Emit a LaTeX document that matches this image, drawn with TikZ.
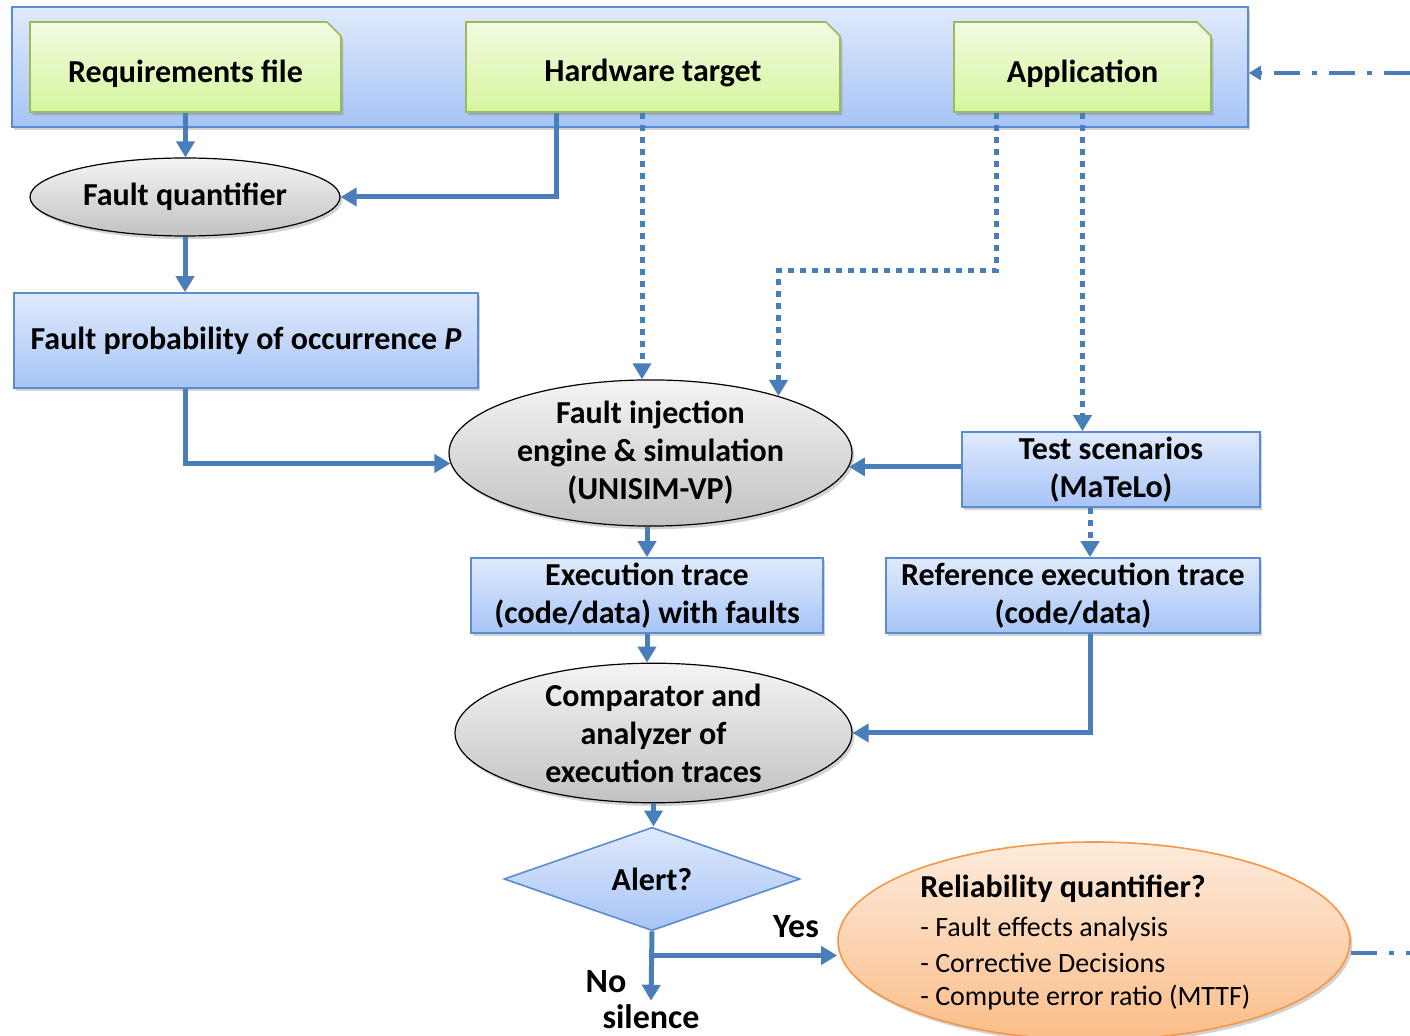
\documentclass[tikz,border=0pt]{standalone}
\usepackage{fontspec}
\setmainfont{Carlito}
\usetikzlibrary{shapes.geometric,shapes.misc,arrows.meta,shadows,calc}

\definecolor{arrowblue}{HTML}{4A7EBB}
\definecolor{frameblue}{HTML}{5B8BD0}
\definecolor{bluetop}{HTML}{E0EAFC}
\definecolor{bluebot}{HTML}{A6C4F6}
\definecolor{greentop}{HTML}{F2FBE2}
\definecolor{greenbot}{HTML}{D6F59E}
\definecolor{greenline}{HTML}{9BBB59}
\definecolor{graytop}{HTML}{F4F4F4}
\definecolor{graybot}{HTML}{C2C2C2}
\definecolor{orangetop}{HTML}{FDEBDC}
\definecolor{orangebot}{HTML}{FBBD88}
\definecolor{orangeline}{HTML}{F79646}

% lower a label inside its box without changing the box size
\newcommand{\lowered}[1]{\raisebox{-3.2pt}[\height][\depth]{#1}}

\begin{document}
\begin{tikzpicture}[x=0.5pt,y=-0.5pt,
  softshadow/.style={drop shadow={shadow xshift=1.2pt,shadow yshift=-1.6pt,opacity=0.25,fill=black!70}},
  lbl/.style={font=\fontsize{16}{19}\selectfont\bfseries,align=center,inner sep=0pt},
  container/.style={rectangle,draw=frameblue,line width=0.8pt,top color=bluetop,bottom color=bluebot,softshadow},
  bluebox/.style={lbl,rectangle,draw=frameblue,line width=0.8pt,top color=bluetop,bottom color=bluebot,softshadow},
  filebox/.style={lbl,chamfered rectangle,chamfered rectangle corners=north east,
    chamfered rectangle xsep=3.5pt,chamfered rectangle ysep=3.5pt,
    draw=greenline,line width=0.8pt,top color=greentop,bottom color=greenbot,softshadow},
  grayell/.style={lbl,ellipse,draw=black,line width=0.6pt,top color=graytop,bottom color=graybot,softshadow},
  diam/.style={lbl,diamond,draw=frameblue,line width=0.8pt,top color=bluetop,bottom color=bluebot},
  orangeell/.style={ellipse,inner sep=0pt,draw=orangeline,line width=0.8pt,top color=orangetop,bottom color=orangebot,softshadow},
  arr/.style={draw=arrowblue,line width=2.5pt,-{Triangle[width=9pt,length=8pt]}},
  dotarr/.style={arr,dash pattern=on 3pt off 3pt},
  dasharr/.style={draw=arrowblue,line width=2pt,dash pattern=on 13pt off 6pt on 2.5pt off 6pt},
  bigword/.style={font=\fontsize{17}{20}\selectfont\bfseries,inner sep=0pt},
  relline/.style={font=\fontsize{14}{16}\selectfont,inner sep=0pt,anchor=west},
]
\useasboundingbox (0,0) rectangle (1410,1036);

% inputs
\node[container,minimum width=618pt,minimum height=60pt] (top) at (630,67) {};
\node[filebox,minimum width=155.5pt,minimum height=45pt] (req) at (185.5,67) {\lowered{Requirements file}};
\node[filebox,minimum width=187pt,minimum height=45pt] (hw) at (653,67) {\lowered{Hardware target}};
\node[filebox,minimum width=128.5pt,minimum height=45pt] (app) at (1082.5,67) {\lowered{Application}};

% processing chain
\node[grayell,minimum width=155pt,minimum height=39pt] (fq) at (185,197) {Fault quantifier};
\node[bluebox,minimum width=232pt,minimum height=47.5pt] (fp) at (246,340.5) {Fault probability of occurrence \textit{P}};
\node[grayell,minimum width=201.5pt,minimum height=62pt] (fi) at (650.5,453) {Fault injection\\engine \& simulation\\(UNISIM-VP)};
\node[bluebox,minimum width=149pt,minimum height=37.5pt] (test) at (1111,469.5) {Test scenarios\\(MaTeLo)};
\node[bluebox,minimum width=176pt,minimum height=37.5pt] (et) at (647,595.5) {Execution trace\\(code/data) with faults};
\node[bluebox,minimum width=187pt,minimum height=37.5pt] (ref) at (1073,595.5) {Reference execution trace\\(code/data)};
\node[grayell,minimum width=198.5pt,minimum height=65pt] (comp) at (653.5,733) {Comparator and\\analyzer of\\execution traces};
\node[diam,minimum width=148pt,minimum height=48pt] (alert) at (652,879) {Alert?};

% reliability outcome
\node[orangeell,minimum width=256pt,minimum height=99pt] (rel) at (1094,941) {};
\node[relline,font=\fontsize{16}{18}\selectfont\bfseries] (reltitle) at (920,889) {Reliability quantifier?};
\node[relline] (relA) at (920,929) {- Fault effects analysis};
\node[relline] (relB) at (920,963) {- Corrective Decisions};
\node[relline] (relC) at (920,998) {- Compute error ratio (MTTF)};

\node[bigword] (yes) at (796,927) {Yes};
\node[bigword] (no) at (606,982) {No};
\node[bigword,anchor=base] (silence) at (651,1029) {silence};

% connectors
\draw[arr] (req.south) -- (req.south |- fq.north);
\draw[arr] ([xshift=45.5pt]hw.south west) |- (fq.east);
\draw[arr] (fq.south) -- (fq.south |- fp.north);
\draw[arr] ([xshift=-30.5pt]fp.south) |- (fi.183);
\draw[dotarr] ([xshift=-5.5pt]hw.south) -- ([xshift=-5.5pt]hw.south |- fi.north);
\draw[dotarr] ([xshift=21.5pt]app.south west) -- ++(0,158) -| (fi.24);
\draw[dotarr] (app.south) -- (app.south |- test.north);
\draw[arr] (test.west |- fi.-4) -- (fi.-4);
\draw[dotarr] ([xshift=-10.5pt]test.south) -- ([xshift=-10.5pt]test.south |- ref.north);
\draw[arr] (fi.south -| et.north) -- (et.north);
\draw[arr] (et.south) -- (et.south |- comp.north);
\draw[arr] ([xshift=8.5pt]ref.south) |- (comp.east);
\draw[arr] (comp.south) -- (comp.south |- alert.north);
\coordinate (branch) at ($(alert.south)+(0,24)$);
\draw[arr] (alert.south) -- ([yshift=2pt]silence.north);
\draw[arr] (branch) -- (branch -| rel.west);

% feedback loop
\coordinate (loopin) at (1410,73);
\coordinate (loopout) at (1410,953);
\draw[dasharr,-{Triangle[width=7pt,length=6pt]}] (loopin) -- (loopin -| top.east);
\draw[dasharr] (loopout -| rel.east) -- (loopout);
\end{tikzpicture}
\end{document}
